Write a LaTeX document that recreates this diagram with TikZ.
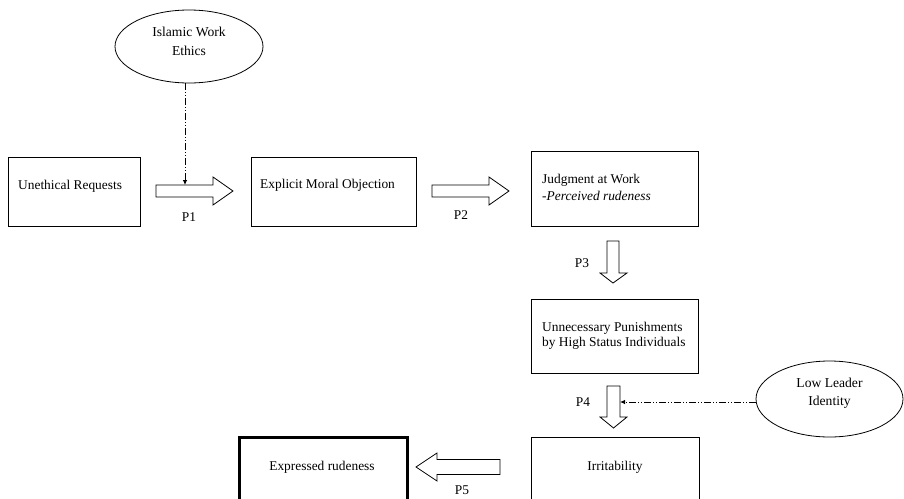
\documentclass[tikz,border=0pt]{standalone}
\usepackage{fontspec}
\setmainfont{Liberation Serif}
\usetikzlibrary{arrows.meta,shapes.geometric}
\begin{document}
\begin{tikzpicture}[x=1pt,y=-1pt,
  every node/.style={font=\fontsize{13.4}{15.5}\selectfont},
  box/.style={draw,line width=0.8pt,anchor=north west,inner sep=0pt},
  oval/.style={draw,ellipse,line width=0.8pt,inner sep=0pt},
  txt/.style={inner sep=0pt,align=left},
  ovaltxt/.style={inner sep=0pt,align=center,font=\fontsize{13.6}{18.5}\selectfont},
  blockarrow/.style={draw,line width=0.8pt,fill=white,line join=miter},
  moderator/.style={line width=0.8pt,dash pattern=on 7pt off 2pt on 1pt off 2pt on 1pt off 2pt,-{Latex[length=5pt,width=4.5pt]}},
  plabel/.style={inner sep=0pt}
]
\fill[white] (0,0) rectangle (904,498);
\useasboundingbox (0,0) rectangle (904,498);
\clip (0,0) rectangle (904,498);

% boxes
\node[box,minimum width=132pt,minimum height=69pt] (ur) at (8,157) {};
\node[box,minimum width=165pt,minimum height=69pt] (emo) at (251,157) {};
\node[box,minimum width=167pt,minimum height=75pt] (jw) at (531,151) {};
\node[box,minimum width=167pt,minimum height=74pt] (up) at (531,299) {};
\node[box,minimum width=168pt,minimum height=80pt] (irr) at (531,437) {};
\node[box,line width=2.6pt,minimum width=168pt,minimum height=80pt] (er) at (238,436) {};

% box texts
\node[txt,anchor=west] (urt) at (18,186) {Unethical Requests};
\node[txt,anchor=west] (emot) at (260,185) {Explicit Moral Objection};
\node[txt,anchor=west,font=\fontsize{13.4}{16.5}\selectfont] (jwt) at (542,187.5) {Judgment at Work\\-\textit{Perceived rudeness}};
\node[txt,anchor=west] (upt) at (542,336) {Unnecessary Punishments\\by High Status Individuals};
\node[txt] (irrt) at (615,467) {Irritability};
\node[txt] (ert) at (322,467) {Expressed rudeness};

% ellipses
\node[oval,minimum width=148pt,minimum height=73pt] (iwe) at (189,46.5) {};
\node[oval,minimum width=147pt,minimum height=76pt] (lli) at (829.5,399) {};
\node[ovaltxt] (iwet) at (189,41.5) {Islamic Work\\Ethics};
\node[ovaltxt] (llit) at (829.5,393) {Low Leader\\Identity};

% block arrows
\draw[blockarrow] (156,185) -- (213,185) -- (213,177) -- (233,191) -- (213,205) -- (213,197) -- (156,197) -- cycle;
\draw[blockarrow] (432,185) -- (489,185) -- (489,177) -- (509,191) -- (489,205) -- (489,197) -- (432,197) -- cycle;
\draw[blockarrow] (607,241) -- (619,241) -- (619,273) -- (627,273) -- (613,283) -- (600,273) -- (607,273) -- cycle;
\draw[blockarrow] (607,386) -- (620,386) -- (620,417) -- (627,417) -- (613.5,428) -- (600,417) -- (607,417) -- cycle;
\draw[blockarrow] (500,459.5) -- (437,459.5) -- (437,453) -- (416,467) -- (437,481) -- (437,474.5) -- (500,474.5) -- cycle;

\coordinate (p1top) at (185,185);
\coordinate (p4side) at (620,402);

% labels
\node[plabel] (p1) at (189,217) {P1};
\node[plabel] (p2) at (461,215) {P2};
\node[plabel] (p3) at (582,263) {P3};
\node[plabel] (p4) at (583,402) {P4};
\node[plabel] (p5) at (462,490) {P5};

% moderators
\draw[moderator] (p1top |- iwe.south) -- (p1top);
\draw[moderator] (lli.west |- p4side) -- (p4side);
\end{tikzpicture}
\end{document}
